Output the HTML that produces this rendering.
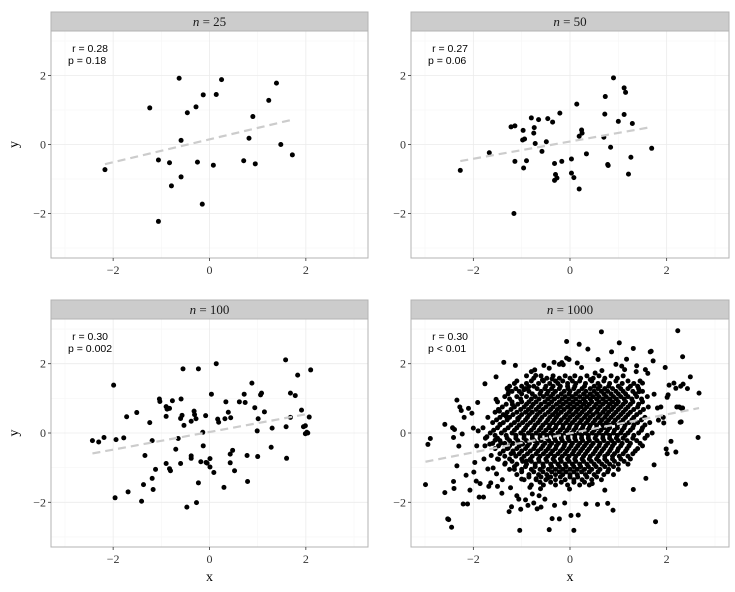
<!DOCTYPE html>
<html><head><meta charset="utf-8"><style>
html,body{margin:0;padding:0;background:#fff;}
svg{display:block;}
</style></head><body>
<svg id="chart" width="735" height="592" viewBox="0 0 735 592" xmlns="http://www.w3.org/2000/svg"></svg>
<script>
// ---- data: n = 25 ----
const x25 = [-2.17,-1.24,-1.06,-1.06,-0.83,-0.79,-0.63,-0.59,-0.59,-0.46,-0.28,-0.25,-0.13,-0.15,0.08,0.14,0.25,0.71,0.82,0.90,0.95,1.23,1.39,1.48,1.72];
const y25 = [-0.73,1.06,-0.45,-2.23,-0.53,-1.20,1.92,0.12,-0.94,0.92,1.09,-0.51,1.44,-1.73,-0.60,1.45,1.88,-0.47,0.18,0.81,-0.56,1.28,1.78,0.00,-0.30];
// ---- data: n = 50 ----
const x50 = [-2.27,-1.67,-1.22,-1.14,-1.14,-1.16,-0.97,-0.98,-0.94,-0.96,-0.90,-0.80,-0.74,-0.75,-0.72,-0.65,-0.58,-0.49,-0.46,-0.36,-0.32,-0.30,-0.32,-0.21,-0.17,-0.27,0.03,0.03,0.08,0.14,0.19,0.19,0.24,0.25,0.34,0.70,0.72,0.73,0.84,0.78,0.79,0.90,1.00,1.12,1.12,1.15,1.29,1.26,1.21,1.69];
const y50 = [-0.75,-0.24,0.51,0.54,-0.49,-2.00,0.41,0.13,0.16,-0.68,-0.47,0.77,0.49,0.33,0.03,0.72,-0.20,0.08,0.75,0.65,-0.55,-0.87,-1.04,0.91,-0.49,-0.97,-0.42,-0.83,-0.96,1.17,0.24,-1.29,0.42,0.33,-0.27,0.21,0.88,1.39,-0.08,-0.58,-0.61,1.93,0.67,1.64,0.87,1.51,0.61,-0.37,-0.86,-0.11];
// ---- data: n = 100 ----
const x100 = [-2.43,-2.30,-2.19,-1.99,-1.94,-1.96,-1.78,-1.72,-1.69,-1.51,-1.41,-1.37,-1.34,-1.24,-1.19,-1.19,-1.17,-1.12,-1.04,-1.03,-0.90,-0.90,-0.90,-0.88,-0.83,-0.83,-0.81,-0.77,-0.70,-0.65,-0.59,-0.60,-0.57,-0.60,-0.55,-0.53,-0.47,-0.38,-0.38,-0.38,-0.32,-0.31,-0.28,-0.27,-0.23,-0.23,-0.18,-0.13,-0.14,-0.08,-0.07,-0.05,0.01,0.01,0.04,0.09,0.14,0.17,0.19,0.30,0.32,0.34,0.39,0.43,0.43,0.44,0.48,0.52,0.62,0.72,0.74,0.78,0.79,0.88,0.94,0.99,1.00,1.01,1.06,1.08,1.14,1.28,1.30,1.58,1.59,1.60,1.68,1.68,1.78,1.83,1.91,1.95,1.99,1.99,2.02,2.04,2.07,2.10];
const y100 = [-0.22,-0.26,-0.13,1.38,-0.19,-1.87,-0.14,0.47,-1.70,0.59,-1.97,-1.49,-0.65,0.30,-0.22,-1.31,-1.63,-1.05,0.98,0.91,0.76,0.48,-0.88,0.69,0.71,-1.03,-1.09,0.93,-0.47,-0.16,0.98,0.42,0.51,-0.88,1.85,0.22,-2.14,0.34,-0.66,-0.73,0.63,0.53,0.41,-2.01,1.85,-1.44,-0.83,-0.37,0.02,0.50,-0.85,-0.87,-0.74,-0.98,1.12,-1.14,2.00,0.40,0.31,-1.57,0.41,0.90,0.60,-0.86,-0.61,0.44,-0.50,-1.09,0.90,1.12,0.88,-0.65,-1.40,1.44,0.73,0.06,-0.68,0.41,1.10,1.15,0.61,-0.41,0.14,2.11,0.18,-0.73,1.15,0.45,1.08,1.67,0.66,0.18,0.21,-0.02,0.02,0.00,0.46,1.82];
// ---- data: n = 1000 (outer points read individually) ----
const x1000 = [-2.99,-2.94,-2.89,-2.59,-2.59,-2.53,-2.51,-2.45,-2.41,-2.40,-2.43,-2.39,-2.41,-2.34,-2.34,-2.30,-2.28,-2.25,-2.23,-2.19,-2.21,-2.15,-2.12,-2.10,-2.07,-2.03,-2.00,-1.99,-1.97,-1.94,-1.93,-1.91,-1.90,-1.88,-1.86,-1.79,-1.76,-1.78,-1.76,-1.72,-1.70,-1.68,-1.66,-1.64,-1.63,-1.59,-1.55,-1.53,-1.53,-1.52,-1.50,-1.48,-1.46,-1.45,-1.43,-1.41,-1.40,-1.37,-1.34,-1.32,-1.30,-1.28,-1.28,-1.26,-1.23,-1.21,-1.19,-1.17,-1.15,-1.13,-1.12,-1.10,-1.08,-1.06,-1.04,-1.02,-1.00,-0.98,-0.95,-0.92,-0.90,-0.87,-0.85,-0.83,-0.80,-0.78,-0.75,-0.73,-0.71,-0.70,-0.68,-0.64,-0.61,-0.60,-0.57,-0.54,-0.52,-0.46,-0.43,-0.43,-0.37,-0.37,-0.33,-0.32,-0.22,-0.22,-0.17,-0.14,-0.11,-0.07,-0.07,-0.02,-0.01,0.02,0.08,0.17,0.19,0.15,0.24,0.33,0.37,0.42,0.46,0.52,0.58,0.57,0.65,0.66,0.72,0.78,0.86,0.89,0.95,1.02,1.07,1.13,1.17,1.31,1.31,1.37,1.38,1.43,1.50,1.56,1.57,1.61,1.66,1.68,1.72,1.74,1.74,1.77,1.81,1.83,1.88,1.93,1.94,1.97,1.99,2.01,2.03,2.05,2.01,2.09,2.15,2.19,2.19,2.21,2.23,2.26,2.29,2.30,2.28,2.30,2.33,2.33,2.34,2.39,2.43,2.49,2.65,2.67];
const y1000 = [-1.49,-0.33,-0.16,0.25,-1.72,-2.48,-2.50,-2.72,-1.40,-1.60,0.15,0.10,-0.13,0.95,-0.95,-0.38,0.75,0.65,-0.03,0.45,-2.05,-1.22,-2.05,0.71,-1.65,0.57,0.14,-1.13,-0.85,-1.39,-0.37,0.88,0.06,-1.85,-1.46,-1.85,1.42,-0.75,-0.37,-0.11,-1.04,-1.54,-0.32,-1.44,-0.65,-1.01,-0.21,1.62,0.97,-1.18,-1.54,-0.76,0.63,0.25,-0.29,-1.74,-1.35,2.04,-0.87,0.48,1.29,1.24,-0.44,-2.27,-1.58,-2.13,0.82,-0.58,-1.05,1.95,-0.07,-1.81,0.42,-1.91,-2.81,-2.20,-1.33,-0.32,1.25,-1.93,-0.81,-2.09,1.34,-1.57,1.77,-1.76,-2.02,1.82,1.66,-1.32,-2.19,-1.81,-1.61,-2.14,1.53,1.95,-1.91,-1.30,-2.79,1.87,1.56,-2.47,2.04,-2.09,-2.48,1.98,2.03,1.97,-2.02,2.64,2.16,2.12,-1.62,-2.38,-2.81,-2.37,2.56,2.02,1.89,-2.05,2.42,1.54,-1.46,1.73,2.12,-2.06,2.92,1.80,-1.65,-2.03,2.34,-2.23,1.98,2.60,1.93,1.83,2.13,2.44,-1.63,1.77,1.94,1.19,1.44,1.83,-1.31,1.72,2.34,2.36,2.08,-0.92,1.12,-2.56,0.72,0.37,0.75,0.45,0.29,1.89,-0.46,1.03,1.10,1.38,-0.60,-0.24,1.44,-0.55,1.29,0.75,2.95,0.75,1.35,0.72,0.31,0.32,2.20,0.72,1.41,-1.48,1.28,1.62,-0.13,1.15];
// dense core of the n = 1000 panel, read row by row: [y, x, x, ...]
const core1000 = [
 [1.65,-0.9,-0.6,-0.35,-0.1,0.1,0.35,0.6,0.85,1.1],
 [1.5,-1.1,-0.8,-0.55,-0.3,-0.15,0.05,0.2,0.45,0.7,0.95,1.2,1.45],
 [1.35,-1.25,-1.0,-0.75,-0.5,-0.35,-0.2,-0.05,0.1,0.3,0.5,0.62,0.8,1.0,1.25,1.4],
 [1.2,-1.2,-1.05,-0.85,-0.6,-0.45,-0.3,-0.12,0.0,0.18,0.33,0.5,0.65,0.78,0.95,1.1,1.3,1.5],
 [1.05,-1.35,-1.1,-0.9,-0.72,-0.55,-0.4,-0.25,-0.1,0.05,0.2,0.35,0.48,0.6,0.75,0.9,1.05,1.2,1.38,1.6],
 [0.9,-1.5,-1.2,-1.0,-0.85,-0.7,-0.52,-0.38,-0.22,-0.08,0.06,0.2,0.32,0.45,0.6,0.74,0.88,1.0,1.15,1.3,1.5],
 [0.75,-1.4,-1.15,-0.95,-0.8,-0.65,-0.5,-0.35,-0.2,-0.05,0.08,0.22,0.35,0.5,0.62,0.78,0.9,1.05,1.2,1.4,1.62],
 [0.6,-1.55,-1.3,-1.1,-0.92,-0.78,-0.62,-0.45,-0.3,-0.18,-0.02,0.12,0.25,0.4,0.55,0.68,0.8,0.95,1.1,1.25,1.45],
 [0.45,-1.7,-1.45,-1.25,-1.05,-0.88,-0.72,-0.58,-0.42,-0.28,-0.12,0.0,0.15,0.3,0.42,0.58,0.72,0.85,1.0,1.15,1.32,1.55],
 [0.3,-1.6,-1.38,-1.15,-0.98,-0.82,-0.66,-0.5,-0.36,-0.22,-0.08,0.05,0.2,0.34,0.48,0.62,0.75,0.9,1.05,1.22,1.4,1.65],
 [0.15,-1.8,-1.5,-1.28,-1.1,-0.92,-0.75,-0.6,-0.44,-0.3,-0.15,-0.02,0.12,0.26,0.4,0.55,0.7,0.82,0.98,1.12,1.3,1.5],
 [0.0,-1.65,-1.42,-1.2,-1.02,-0.86,-0.7,-0.55,-0.4,-0.25,-0.1,0.04,0.18,0.32,0.46,0.6,0.75,0.9,1.05,1.2,1.42,1.7],
 [-0.15,-1.75,-1.5,-1.3,-1.12,-0.95,-0.78,-0.62,-0.48,-0.32,-0.18,-0.04,0.1,0.24,0.38,0.52,0.68,0.82,0.96,1.1,1.3,1.55],
 [-0.3,-1.6,-1.35,-1.18,-1.0,-0.84,-0.68,-0.52,-0.38,-0.24,-0.1,0.05,0.2,0.34,0.48,0.62,0.78,0.92,1.08,1.25,1.45],
 [-0.45,-1.55,-1.3,-1.1,-0.92,-0.75,-0.6,-0.45,-0.3,-0.15,-0.02,0.12,0.26,0.4,0.55,0.7,0.85,1.0,1.18,1.4],
 [-0.6,-1.45,-1.22,-1.05,-0.88,-0.7,-0.55,-0.4,-0.25,-0.1,0.05,0.18,0.32,0.48,0.62,0.78,0.92,1.1,1.3],
 [-0.75,-1.5,-1.25,-1.0,-0.82,-0.65,-0.5,-0.35,-0.2,-0.05,0.1,0.25,0.4,0.55,0.72,0.88,1.05,1.25],
 [-0.9,-1.35,-1.1,-0.9,-0.72,-0.56,-0.4,-0.25,-0.1,0.05,0.2,0.35,0.5,0.66,0.82,1.0,1.2],
 [-1.05,-1.25,-1.0,-0.8,-0.62,-0.45,-0.3,-0.15,0.0,0.15,0.3,0.45,0.62,0.8,1.0],
 [-1.2,-1.1,-0.85,-0.65,-0.48,-0.3,-0.15,0.0,0.15,0.32,0.5,0.7,0.9],
 [-1.35,-0.95,-0.7,-0.5,-0.3,-0.1,0.08,0.25,0.45,0.65],
 [-1.5,-0.8,-0.55,-0.3,-0.05,0.2,0.4]
];
const core1000b = [
 [1.58,-0.75,-0.48,-0.22,0.0,0.22,0.48,0.72,0.98],
 [1.43,-1.15,-0.9,-0.65,-0.42,-0.25,-0.05,0.12,0.32,0.58,0.82,1.08,1.32],
 [1.28,-1.12,-0.92,-0.68,-0.52,-0.38,-0.22,-0.04,0.08,0.25,0.42,0.58,0.72,0.88,1.05,1.2,1.42],
 [1.13,-1.28,-1.0,-0.78,-0.62,-0.48,-0.35,-0.18,-0.02,0.12,0.28,0.42,0.56,0.7,0.85,1.0,1.15,1.35],
 [0.98,-1.25,-1.02,-0.8,-0.64,-0.46,-0.32,-0.16,-0.02,0.12,0.28,0.42,0.55,0.68,0.82,0.96,1.12,1.28,1.48],
 [0.83,-1.32,-1.08,-0.9,-0.76,-0.6,-0.44,-0.28,-0.14,0.0,0.14,0.28,0.4,0.54,0.68,0.82,0.96,1.1,1.25,1.42],
 [0.68,-1.48,-1.22,-1.02,-0.86,-0.7,-0.56,-0.4,-0.26,-0.12,0.02,0.16,0.3,0.44,0.58,0.72,0.86,1.0,1.15,1.32,1.52],
 [0.53,-1.38,-1.18,-1.0,-0.84,-0.68,-0.52,-0.36,-0.24,-0.08,0.06,0.2,0.34,0.48,0.62,0.76,0.9,1.05,1.2,1.38],
 [0.38,-1.52,-1.3,-1.08,-0.92,-0.76,-0.62,-0.46,-0.32,-0.18,-0.04,0.1,0.24,0.38,0.52,0.66,0.8,0.94,1.1,1.28,1.48],
 [0.23,-1.45,-1.22,-1.05,-0.88,-0.72,-0.56,-0.42,-0.28,-0.14,0.0,0.14,0.28,0.42,0.55,0.68,0.82,0.98,1.14,1.32,1.55],
 [0.08,-1.58,-1.35,-1.15,-0.96,-0.8,-0.64,-0.5,-0.36,-0.2,-0.06,0.08,0.22,0.36,0.5,0.64,0.78,0.92,1.08,1.25,1.48],
 [-0.07,-1.55,-1.32,-1.12,-0.95,-0.78,-0.62,-0.48,-0.34,-0.18,-0.04,0.1,0.24,0.38,0.54,0.68,0.82,0.98,1.14,1.32,1.6],
 [-0.22,-1.45,-1.25,-1.08,-0.9,-0.74,-0.6,-0.44,-0.3,-0.16,-0.02,0.12,0.26,0.4,0.56,0.7,0.86,1.0,1.18,1.38],
 [-0.37,-1.48,-1.25,-1.05,-0.88,-0.72,-0.56,-0.42,-0.28,-0.12,0.02,0.16,0.3,0.44,0.6,0.74,0.88,1.05,1.22,1.5],
 [-0.52,-1.38,-1.18,-1.0,-0.82,-0.66,-0.5,-0.36,-0.2,-0.06,0.08,0.22,0.36,0.52,0.66,0.82,0.98,1.15,1.35],
 [-0.67,-1.35,-1.12,-0.95,-0.78,-0.62,-0.46,-0.32,-0.16,-0.02,0.12,0.28,0.42,0.58,0.72,0.88,1.02,1.2],
 [-0.82,-1.2,-0.98,-0.8,-0.64,-0.48,-0.32,-0.18,-0.02,0.12,0.28,0.44,0.6,0.76,0.92,1.12],
 [-0.97,-1.15,-0.92,-0.72,-0.55,-0.38,-0.22,-0.08,0.08,0.22,0.38,0.54,0.72,0.9],
 [-1.12,-1.0,-0.75,-0.56,-0.38,-0.22,-0.08,0.08,0.24,0.4,0.58,0.78],
 [-1.27,-0.85,-0.6,-0.4,-0.2,0.0,0.16,0.35,0.55],
 [-1.42,-0.62,-0.4,-0.18,0.08,0.3]
];
// regression line endpoints per panel
const fitX25 = [-2.17,1.72], fitY25 = [-0.57,0.72];
const fitX50 = [-2.27,1.70], fitY50 = [-0.48,0.51];
const fitX100 = [-2.43,2.08], fitY100 = [-0.59,0.56];
const fitX1000 = [-2.99,2.67], fitY1000 = [-0.83,0.72];
const panelLabels = ["25","50","100","1000"];
const rLabels = ["r = 0.28","r = 0.27","r = 0.30","r = 0.30"];
const pLabels = ["p = 0.18","p = 0.06","p = 0.002","p < 0.01"];
const ticks = [-2,0,2];
const tickText = ["\u22122","0","2"];
const minorTicks = [-3,-1,1,3];

// flatten core
const cx1000 = x1000.slice(), cy1000 = y1000.slice();
core1000.concat(core1000b).forEach(r => { for (let i = 1; i < r.length; i++) { cx1000.push(r[i]); cy1000.push(r[0]); } });

const NS = "http://www.w3.org/2000/svg";
const svg = document.getElementById('chart');
function mk(tag, attrs, parent) {
  const e = document.createElementNS(NS, tag);
  for (const k in attrs) e.setAttribute(k, attrs[k]);
  (parent || svg).appendChild(e);
  return e;
}
const LIM = 3.29;
const panels = [
  {l:51, r:368, st:12, t:31, b:258, xs:x25, ys:y25, fx:fitX25, fy:fitY25, xaxis:false, yaxis:true},
  {l:411, r:729, st:12, t:31, b:258, xs:x50, ys:y50, fx:fitX50, fy:fitY50, xaxis:false, yaxis:false},
  {l:51, r:368, st:300, t:319, b:547, xs:x100, ys:y100, fx:fitX100, fy:fitY100, xaxis:true, yaxis:true},
  {l:411, r:729, st:300, t:319, b:547, xs:cx1000, ys:cy1000, fx:fitX1000, fy:fitY1000, xaxis:true, yaxis:false}
];
panels.forEach((p, i) => {
  const g = mk('g', {});
  
  
  const sx = v => p.l + (v + LIM) / (2 * LIM) * (p.r - p.l);
  const sy = v => p.b - (v + LIM) / (2 * LIM) * (p.b - p.t);
  const bg = mk('rect', {x:p.l, y:p.t, width:p.r - p.l, height:p.b - p.t, fill:'#fff'}, g);
  
  
  minorTicks.forEach(v => {
    mk('line', {x1:sx(v), x2:sx(v), y1:p.t, y2:p.b, stroke:'#f5f5f5', 'stroke-width':0.6}, g);
    mk('line', {x1:p.l, x2:p.r, y1:sy(v), y2:sy(v), stroke:'#f5f5f5', 'stroke-width':0.6}, g);
  });
  ticks.forEach(v => {
    const gl = mk('line', {x1:sx(v), x2:sx(v), y1:p.t, y2:p.b, stroke:'#ebebeb', 'stroke-width':0.8}, g);
    
    
    const gh = mk('line', {x1:p.l, x2:p.r, y1:sy(v), y2:sy(v), stroke:'#ebebeb', 'stroke-width':0.8}, g);
    
    
  });
  for (let k = 0; k < p.xs.length; k++) {
    const c = mk('circle', {cx:sx(p.xs[k]), cy:sy(p.ys[k]), r:2.5, fill:'#000'}, g);
    
    
  }
  const fl = mk('line', {x1:sx(p.fx[0]), y1:sy(p.fy[0]), x2:sx(p.fx[1]), y2:sy(p.fy[1]), stroke:'#cccccc', 'stroke-width':2.2, 'stroke-dasharray':'8,5'}, g);
  
  
  const br = mk('rect', {x:p.l, y:p.t, width:p.r - p.l, height:p.b - p.t, fill:'none', stroke:'#b3b3b3', 'stroke-width':1}, g);
  
  
  const sr = mk('rect', {x:p.l, y:p.st, width:p.r - p.l, height:p.t - p.st, fill:'#cccccc', stroke:'#b3b3b3', 'stroke-width':1}, g);
  
  
  const stx = mk('text', {x:(p.l + p.r) / 2, y:p.st + 14, 'text-anchor':'middle', 'font-family':'Liberation Serif, serif', 'font-size':13, fill:'#1a1a1a'}, g);
  
  
  stx.innerHTML = '<tspan font-style="italic">n</tspan> = ' + panelLabels[i];
  const a1 = mk('text', {x:p.l + 57, y:p.t + 21, 'text-anchor':'end', 'font-family':'Liberation Sans, sans-serif', 'font-size':10.5, fill:'#000'}, g);
  
  
  a1.textContent = rLabels[i];
  const a2 = mk('text', {x:p.l + 17, y:p.t + 33, 'text-anchor':'start', 'font-family':'Liberation Sans, sans-serif', 'font-size':10.5, fill:'#000'}, g);
  
  
  a2.textContent = pLabels[i];
  ticks.forEach((v, j) => {
    mk('line', {x1:sx(v), x2:sx(v), y1:p.b, y2:p.b + 3, stroke:'#333', 'stroke-width':0.8}, g);
    const tl = mk('text', {x:sx(v), y:p.b + 16, 'text-anchor':'middle', 'font-family':'Liberation Serif, serif', 'font-size':12, fill:'#333'}, g);
    
    
    tl.textContent = tickText[j];
    mk('line', {x1:p.l - 3, x2:p.l, y1:sy(v), y2:sy(v), stroke:'#333', 'stroke-width':0.8}, g);
    const yl = mk('text', {x:p.l - 5, y:sy(v) + 4, 'text-anchor':'end', 'font-family':'Liberation Serif, serif', 'font-size':12, fill:'#333'}, g);
    
    
    yl.textContent = tickText[j];
  });
  if (p.xaxis) {
    const xt = mk('text', {x:(p.l + p.r) / 2, y:581, 'text-anchor':'middle', 'font-family':'Liberation Serif, serif', 'font-size':14, fill:'#000'}, g);
    
    
    xt.textContent = 'x';
  }
  if (p.yaxis) {
    const cy = (p.t + p.b) / 2;
    const yt = mk('text', {x:18, y:cy, 'text-anchor':'middle', 'font-family':'Liberation Serif, serif', 'font-size':14, fill:'#000', transform:'rotate(-90 18 ' + cy + ')'}, g);
    
    
    yt.textContent = 'y';
  }
});
</script>
</body></html>
